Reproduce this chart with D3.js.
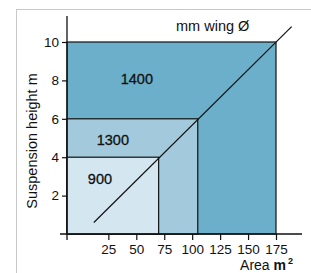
<!DOCTYPE html>
<html>
<head>
<meta charset="utf-8">
<script src="https://d3js.org/d3.v7.min.js"></script>
<style>
  body { margin: 0; background: #fff; }
  text { font-family: "Liberation Sans", Arial, sans-serif; fill: #111; }
</style>
</head>
<body>
<div id="chart"></div>
<script>
  // wing sizes (mm) with the max area (m2) and height (m) they cover
  const wings = [1400, 1300, 900];
  const maxArea = [175, 105, 70];
  const maxHeight = [10, 6, 4];
  const fills = ["#6bafca", "#a3cadc", "#d4e6f0"];
  const labelAt = [[50.5, 7.8], [29, 4.65], [17.5, 2.6]];

  const xTicks = [25, 50, 75, 100, 125, 150, 175];
  const yTicks = [2, 4, 6, 8, 10];
  const diagonal = [[12, 0.6], [189, 10.8]];

  const width = 311, height = 273;

  const svg = d3.select("#chart").append("svg")
    .attr("width", width).attr("height", height);

  // light frame
  svg.append("rect")
    .attr("x", 16.5).attr("y", 9.5)
    .attr("width", 400).attr("height", 400)
    .attr("fill", "none").attr("stroke", "#c8c8c8").attr("stroke-width", 1);

  const x = d3.scaleLinear().domain([-12, 175]).range([67, 276]);
  const y = d3.scaleLinear().domain([0, 10]).range([234, 42]);

  const regions = wings.map((w, i) => ({
    wing: w, area: maxArea[i], h: maxHeight[i], fill: fills[i], label: labelAt[i]
  }));

  svg.append("g").selectAll("rect")
    .data(regions)
    .join("rect")
    .attr("x", x(-12))
    .attr("y", d => y(d.h))
    .attr("width", d => x(d.area) - x(-12))
    .attr("height", d => y(0) - y(d.h))
    .attr("fill", d => d.fill)
    .attr("stroke", "#111")
    .attr("stroke-width", 1.2);

  svg.append("g").selectAll("text")
    .data(regions)
    .join("text")
    .attr("x", d => x(d.label[0]))
    .attr("y", d => y(d.label[1]))
    .attr("text-anchor", "middle")
    .attr("font-size", 14.5)
    .attr("stroke", "#111")
    .attr("stroke-width", 0.3)
    .text(d => d.wing);

  svg.append("path")
    .datum(diagonal)
    .attr("d", d3.line().x(d => x(d[0])).y(d => y(d[1])))
    .attr("stroke", "#111")
    .attr("stroke-width", 1.2)
    .attr("fill", "none");

  // axes
  const yAxis = svg.append("g")
    .attr("transform", `translate(${x(-12)},0)`)
    .call(d3.axisLeft(y).tickValues(yTicks).tickSize(5).tickPadding(3).tickSizeOuter(0));
  yAxis.select(".domain").remove();
  yAxis.selectAll("text").attr("font-size", 13.5).attr("font-family", null);
  yAxis.selectAll("line").attr("stroke", "#111").attr("stroke-width", 1.2);

  const xAxis = svg.append("g")
    .attr("transform", `translate(0,${y(0)})`)
    .call(d3.axisBottom(x).tickValues(xTicks).tickSize(6).tickPadding(4).tickSizeOuter(0));
  xAxis.select(".domain").remove();
  xAxis.selectAll("text").attr("font-size", 13.5).attr("font-family", null);
  xAxis.selectAll("line").attr("stroke", "#111").attr("stroke-width", 1.2);

  svg.append("line")
    .attr("x1", x(-12)).attr("x2", x(-12))
    .attr("y1", 16).attr("y2", y(0) + 6)
    .attr("stroke", "#111").attr("stroke-width", 1.3);
  svg.append("line")
    .attr("x1", 60).attr("x2", 302)
    .attr("y1", y(0)).attr("y2", y(0))
    .attr("stroke", "#111").attr("stroke-width", 1.3);

  svg.append("text")
    .attr("x", 176).attr("y", 31)
    .attr("font-size", 14.5)
    .text("mm wing Ø");

  svg.append("text")
    .attr("transform", `translate(37,141) rotate(-90)`)
    .attr("text-anchor", "middle")
    .attr("font-size", 14.5)
    .text("Suspension height m");

  const area = svg.append("text")
    .attr("x", 293).attr("y", 270)
    .attr("text-anchor", "end")
    .attr("font-size", 14);
  area.append("tspan").text("Area ");
  area.append("tspan").attr("font-weight", "bold").text("m");
  area.append("tspan").attr("font-size", 9).attr("font-weight", "bold").attr("dy", -6).attr("dx", 2).text("2");
</script>
</body>
</html>
